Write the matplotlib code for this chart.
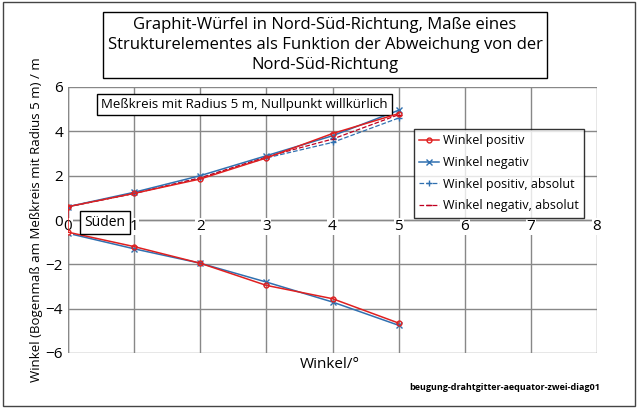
import matplotlib
matplotlib.use("Agg")
import matplotlib.pyplot as plt
from matplotlib.patches import Rectangle

plt.rcParams['font.family'] = ['Open Sans', 'DejaVu Sans']

x = [5, 4, 3, 2, 1, 0, 0, 1, 2, 3, 4, 5]
pos = [4.8, 3.9, 2.8, 1.85, 1.2, 0.6, -0.55, -1.2, -1.95, -2.95, -3.55, -4.65]
neg = [4.95, 3.8, 2.9, 2.0, 1.25, 0.6, -0.6, -1.3, -1.95, -2.8, -3.7, -4.75]
xa = [0, 1, 2, 3, 4, 5]
pos_abs = [0.6, 1.2, 1.9, 2.8, 3.5, 4.6]
neg_abs = [0.6, 1.2, 1.9, 2.85, 3.65, 4.75]
xticks = list(range(0, 9))

W, H = 639, 408
fig = plt.figure(figsize=(W/100, H/100), dpi=100)
fig.patches.append(Rectangle((0.004, 0.004), 0.99, 0.99, transform=fig.transFigure,
                             fill=False, ec='#444', lw=1))
ax = fig.add_axes([68/W, 1-353/H, (597-68)/W, (353-87)/H])
ax.plot(x, pos, color='#e02020', marker='o', ms=3.5, mfc='none', lw=1.1, label='Winkel positiv', zorder=4)
ax.plot(x, neg, color='#3070b0', marker='x', ms=5, lw=1.1, label='Winkel negativ', zorder=3)
ax.plot(xa, pos_abs, color='#3070b0', marker='+', ms=4, ls='--', lw=0.9, label='Winkel positiv, absolut')
ax.plot(xa, neg_abs, color='#c00020', marker='_', ms=4, ls='--', lw=0.9, label='Winkel negativ, absolut')
ax.set_xlim(0, 8)
ax.set_ylim(-6, 6)
ax.set_xticks(xticks)
ax.set_xticklabels([])
ax.set_yticks(range(-6, 7, 2))
ax.grid(True, color='#888', lw=1)
for s in ax.spines.values():
    s.set_visible(False)
ax.axhline(0, color='#888', lw=1)
ax.axvline(0, color='#888', lw=1)
ax.tick_params(length=0, labelsize=11)
for t in xticks:
    ax.text(t, -0.3, str(t), ha='center', va='center', fontsize=11,
            bbox=dict(boxstyle='square,pad=0.05', fc='white', ec='none'))
ax.set_ylabel('Winkel (Bogenmaß am Meßkreis mit Radius 5 m) / m', fontsize=9.5, labelpad=2)
fig.text(330/W, 1-365/H, 'Winkel/°', ha='center', va='center', fontsize=11)
leg = ax.legend(loc='upper left', bbox_to_anchor=((408-68)/(597-68), 1-(123-87)/(353-87)),
                fontsize=9, frameon=True, fancybox=False, edgecolor='black',
                handlelength=1.6, handletextpad=0.3, borderpad=0.4, labelspacing=0.7)
leg.get_frame().set_linewidth(1)
ax.text(0.5, 5.2, 'Meßkreis mit Radius 5 m, Nullpunkt willkürlich', fontsize=9.5, va='center',
        bbox=dict(boxstyle='square,pad=0.3', fc='white', ec='black', lw=1))
ax.text(0.25, -0.1, 'Süden', fontsize=10, va='center', ha='left', zorder=5,
        bbox=dict(boxstyle='square,pad=0.3', fc='white', ec='black', lw=1))
fig.text(325/W, 1-45/H, 'Graphit-Würfel in Nord-Süd-Richtung, Maße eines\nStrukturelementes als Funktion der Abweichung von der\nNord-Süd-Richtung',
         ha='center', va='center', fontsize=12, linespacing=1.3,
         bbox=dict(boxstyle='square,pad=0.3', fc='white', ec='black', lw=1))
fig.text(505/W, 1-388/H, 'beugung-drahtgitter-aequator-zwei-diag01', ha='center', va='center',
         fontsize=6.5, fontweight='bold')
fig.savefig('out.png', dpi=100)
